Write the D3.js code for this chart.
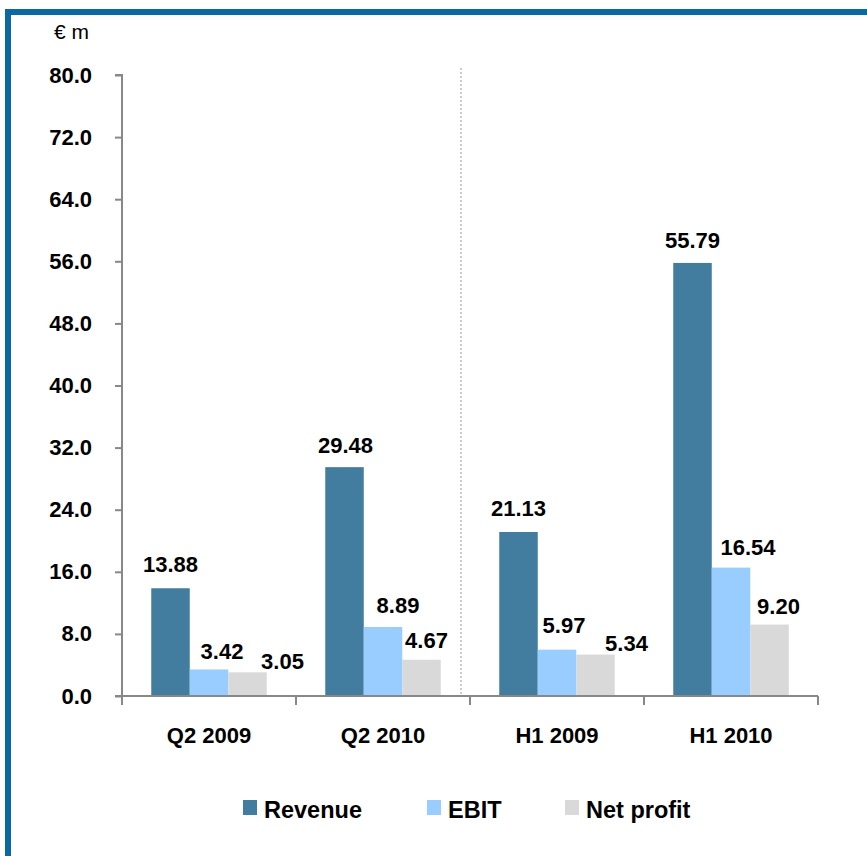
<!DOCTYPE html>
<html>
<head>
<meta charset="utf-8">
<script src="https://cdn.jsdelivr.net/npm/d3@7"></script>
<style>
  html, body { margin: 0; padding: 0; background: #ffffff; }
  svg { display: block; }
  text { font-family: "Liberation Sans", Arial, sans-serif; }
</style>
</head>
<body>
<svg id="chart" width="867" height="856"></svg>
<script>
// ---- data ----
const categories = ["Q2 2009", "Q2 2010", "H1 2009", "H1 2010"];
const seriesNames = ["Revenue", "EBIT", "Net profit"];
const revenue   = [13.88, 29.48, 21.13, 55.79];
const ebit      = [3.42, 8.89, 5.97, 16.54];
const netProfit = [3.05, 4.67, 5.34, 9.20];
const yTicks = [0, 8, 16, 24, 32, 40, 48, 56, 64, 72, 80];
const unitLabel = "€ m";

// label nudges (label placement only)
const labelDx = [[0, 1, 0, 0], [13, 15, 7, 17], [35, 5, 31, 9]];
const labelGap = [[16, 14, 16, 15], [10, 14, 17, 13], [3, 12, 4, 11]];

const colors = ["#427C9E", "#99CCFF", "#D9D9D9"];
const values = [revenue, ebit, netProfit];

(function () {
const svg = d3.select("#chart");

// frame
svg.append("rect").attr("x", 5).attr("y", 9).attr("width", 862).attr("height", 6).attr("fill", "#0A69A0");
svg.append("rect").attr("x", 5).attr("y", 9).attr("width", 6).attr("height", 847).attr("fill", "#0A69A0");

const mLeft = 122, mRight = 818, mTop = 75, mBottom = 696;

const y = d3.scaleLinear().domain([0, 80]).range([mBottom, mTop]);
const x0 = d3.scaleBand().domain(categories).range([mLeft, mRight]).paddingInner(0).paddingOuter(0);
const x1 = d3.scaleBand().domain(seriesNames).range([0, x0.bandwidth()]).paddingInner(0).paddingOuter(0.76);

// divider (dotted)
svg.append("line")
  .attr("x1", 461).attr("x2", 461).attr("y1", 68).attr("y2", mBottom)
  .attr("stroke", "#9a9a9a").attr("stroke-width", 1).attr("stroke-dasharray", "2,2");

// bars
const groups = svg.append("g");
seriesNames.forEach((s, si) => {
  categories.forEach((c, ci) => {
    const v = values[si][ci];
    groups.append("rect")
      .attr("x", x0(c) + x1(s))
      .attr("y", y(v))
      .attr("width", x1.bandwidth())
      .attr("height", y(0) - y(v))
      .attr("fill", colors[si]);
  });
});

// y axis
const yAxis = d3.axisLeft(y).tickValues(yTicks).tickFormat(d3.format(".1f")).tickSize(7).tickPadding(23);
const gy = svg.append("g").attr("transform", `translate(${mLeft},0)`).call(yAxis);
gy.select(".domain").attr("stroke", "#888").attr("stroke-width", 2).attr("d", `M-7,${mTop}H0V${mBottom}`);
gy.selectAll(".tick line").attr("stroke", "#888").attr("stroke-width", 2);
gy.selectAll(".tick text")
  .attr("fill", "#000").style("font-size", "22px").style("font-weight", "bold")
  .style("font-family", "'Liberation Sans', Arial, sans-serif");

// x axis
const xTickScale = d3.scaleLinear().domain([0, categories.length]).range([mLeft, mRight]);
const gx = svg.append("g");
gx.append("line").attr("x1", mLeft - 7).attr("x2", mRight).attr("y1", mBottom).attr("y2", mBottom)
  .attr("stroke", "#888").attr("stroke-width", 2);
d3.range(categories.length + 1).forEach(i => {
  gx.append("line").attr("x1", xTickScale(i)).attr("x2", xTickScale(i))
    .attr("y1", mBottom).attr("y2", mBottom + 9)
    .attr("stroke", "#888").attr("stroke-width", 2);
});
categories.forEach(c => {
  gx.append("text")
    .attr("x", x0(c) + x0.bandwidth() / 2).attr("y", 743)
    .attr("text-anchor", "middle")
    .style("font-size", "22px").style("font-weight", "bold").attr("fill", "#000")
    .text(c);
});

// value labels
seriesNames.forEach((s, si) => {
  categories.forEach((c, ci) => {
    const v = values[si][ci];
    svg.append("text")
      .attr("x", x0(c) + x1(s) + x1.bandwidth() / 2 + labelDx[si][ci])
      .attr("y", y(v) - labelGap[si][ci])
      .attr("text-anchor", "middle")
      .style("font-size", "22px").style("font-weight", "bold").attr("fill", "#000")
      .text(v.toFixed(2));
  });
});

// unit label
svg.append("text").attr("x", 54).attr("y", 39)
  .style("font-size", "21px").attr("fill", "#000").text(unitLabel);

// legend
const legendX = [243, 427, 565];
seriesNames.forEach((s, si) => {
  svg.append("rect").attr("x", legendX[si]).attr("y", 800).attr("width", 14).attr("height", 15)
    .attr("fill", colors[si]);
  svg.append("text").attr("x", legendX[si] + 21).attr("y", 818)
    .style("font-size", "23.5px").style("font-weight", "bold").attr("fill", "#000")
    .text(s);
});
})();
</script>
</body>
</html>
